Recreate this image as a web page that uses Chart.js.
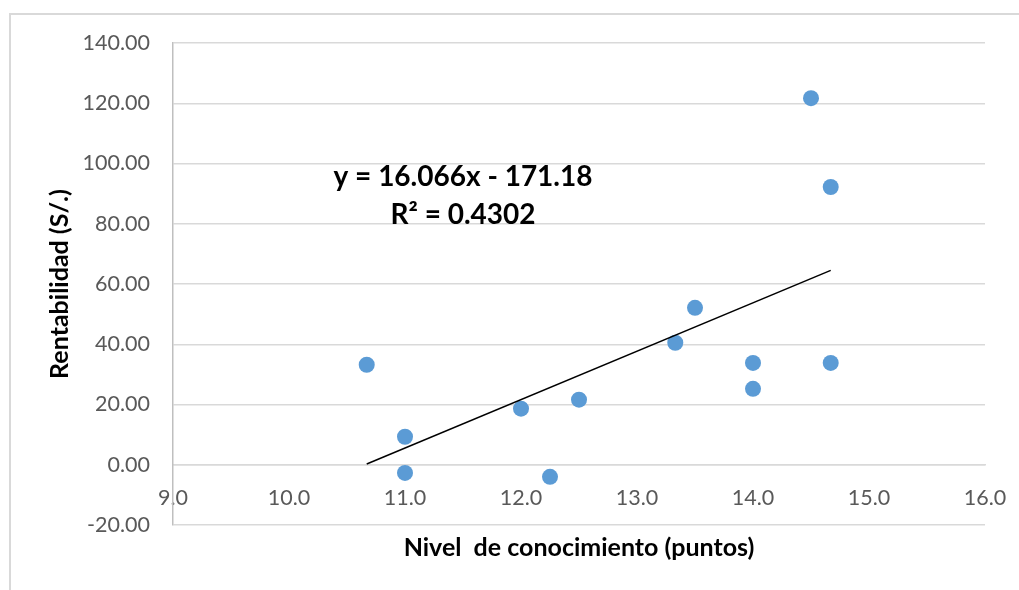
<!DOCTYPE html>
<html>
<head>
<meta charset="utf-8">
<script src="https://cdn.jsdelivr.net/npm/chart.js@4.4.1/dist/chart.umd.min.js"></script>
<style>
  body { margin: 0; background: #fff; }
  #wrap { position: relative; width: 1019px; height: 590px; }
  #frame { position: absolute; left: 9px; top: 13px; right: -20px; bottom: -20px; border-left: 2px solid #d9d9d9; border-top: 2px solid #d9d9d9; }
  #chart { position: absolute; left: 0; top: 0; }
</style>
</head>
<body>
<div id="wrap">
  <div id="frame"></div>
  <canvas id="chart" width="1019" height="590"></canvas>
</div>
<script>
// valores
const nivel = [10.67, 11.0, 11.0, 12.0, 12.25, 12.5, 13.33, 13.5, 14.0, 14.0, 14.5, 14.67, 14.67];
const rentabilidad = [33.2, 9.3, -2.7, 18.6, -4.0, 21.6, 40.5, 52.1, 33.8, 25.2, 121.7, 92.2, 33.8];

// linea de tendencia (Excel)
const pendiente = 16.066;
const intercepto = -171.18;
const ecuacion = ['y = 16.066x - 171.18', 'R² = 0.4302'];

const xMin = Math.min(...nivel);
const xMax = Math.max(...nivel);
const tendencia = [
  { x: xMin, y: pendiente * xMin + intercepto },
  { x: xMax, y: pendiente * xMax + intercepto }
];

const fuente = 'Lato, "Open Sans", sans-serif';

// etiqueta de la ecuacion
const ecuacionPlugin = {
  id: 'ecuacion',
  afterDatasetsDraw(chart) {
    const { ctx, scales } = chart;
    const cx = scales.x.getPixelForValue(11.5);
    const cy = scales.y.getPixelForValue(95.5);
    ctx.save();
    ctx.font = 'bold 28px ' + fuente;
    ctx.fillStyle = '#000';
    ctx.textAlign = 'center';
    ctx.textBaseline = 'middle';
    ctx.fillText(ecuacion[0], cx, cy);
    ctx.fillText(ecuacion[1], cx, cy + 38);
    ctx.restore();
  }
};

new Chart(document.getElementById('chart').getContext('2d'), {
  type: 'scatter',
  data: {
    datasets: [{
      data: nivel.map((v, i) => ({ x: v, y: rentabilidad[i] })),
      backgroundColor: '#5b9bd5',
      borderWidth: 0,
      pointRadius: 8,
      pointHoverRadius: 8,
      order: 2
    }, {
      type: 'line',
      data: tendencia,
      borderColor: '#000',
      borderWidth: 1.5,
      pointRadius: 0,
      fill: false,
      order: 1
    }]
  },
  options: {
    responsive: false,
    animation: false,
    layout: { padding: { top: 43, right: 34, left: 0, bottom: 0 } },
    plugins: {
      legend: { display: false },
      tooltip: { enabled: false }
    },
    scales: {
      x: {
        type: 'linear',
        position: 'bottom',
        min: 9,
        max: 16,
        ticks: { display: false },
        grid: { display: false },
        border: { display: false },
        title: {
          display: true,
          text: 'Nivel  de conocimiento (puntos)',
          color: '#000',
          font: { family: fuente, size: 25, weight: 'bold' },
          padding: { top: 0, bottom: 27 }
        },
        afterFit: function (scale) {
          scale.height = 65;
          scale.paddingLeft = 0;
          scale.paddingRight = 0;
        }
      },
      xCero: {
        type: 'linear',
        axis: 'x',
        position: { y: 0 },
        min: 9,
        max: 16,
        ticks: {
          stepSize: 1,
          padding: 20,
          color: '#595959',
          font: { family: fuente, size: 21.5 },
          callback: v => v.toFixed(1)
        },
        grid: { display: false, drawTicks: false },
        border: { display: true, color: '#d9d9d9', width: 1.5 },
        afterFit: function (scale) {
          scale.height = 0;
          scale.paddingLeft = 0;
          scale.paddingRight = 0;
        }
      },
      y: {
        min: -20,
        max: 140,
        ticks: {
          stepSize: 20,
          padding: 23,
          color: '#595959',
          font: { family: fuente, size: 21.5 },
          callback: v => v.toFixed(2)
        },
        grid: { color: '#d9d9d9', lineWidth: 1.5, drawTicks: false },
        border: { color: '#bfbfbf', width: 1.5 },
        title: {
          display: true,
          text: 'Rentabilidad (S/.)',
          color: '#000',
          font: { family: fuente, size: 25, weight: 'bold' },
          padding: { top: 45, bottom: 0 }
        },
        afterFit: function (scale) { scale.width = 173; }
      }
    }
  },
  plugins: [ecuacionPlugin]
});
</script>
</body>
</html>
